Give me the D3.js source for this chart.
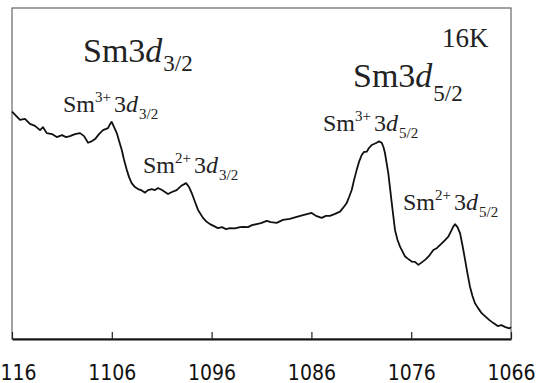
<!DOCTYPE html>
<html>
<head>
<meta charset="UTF-8">
<title>Sm 3d spectrum 16K</title>
<script src="https://d3js.org/d3.v7.min.js"></script>
<style>
    body { margin: 0; background: #fff; }
    svg { display: block; }
</style>
</head>
<body>
<div id="chart"></div>
<script>
// binding energy (eV)
const energy = [
    1116.00, 1115.20, 1114.70, 1114.20, 1113.70, 1113.19, 1112.89, 1112.52, 1111.99, 1111.52,
    1110.99, 1110.59, 1110.19, 1109.69, 1109.18, 1108.78, 1108.38, 1107.98, 1107.68, 1107.28,
    1106.88, 1106.38, 1106.18, 1106.01, 1105.77, 1105.50, 1105.27, 1105.00, 1104.77, 1104.50,
    1104.27, 1104.01, 1103.68, 1103.37, 1103.07, 1102.67, 1102.37, 1102.00, 1101.67, 1101.37,
    1100.97, 1100.67, 1100.37, 1099.97, 1099.50, 1099.07, 1098.56, 1098.26, 1097.99, 1097.66,
    1097.36, 1096.86, 1096.56, 1096.16, 1095.76, 1095.36, 1094.96, 1094.56, 1094.16, 1093.66,
    1093.15, 1092.85, 1092.35, 1091.95, 1091.48, 1091.05, 1090.48, 1090.05, 1089.48, 1088.85,
    1088.16, 1087.47, 1086.74, 1085.97, 1085.54, 1084.97, 1084.54, 1084.14, 1083.63, 1083.13,
    1082.83, 1082.46, 1082.22, 1081.96, 1081.73, 1081.46, 1081.23, 1080.96, 1080.73, 1080.46,
    1080.23, 1079.96, 1079.73, 1079.46, 1079.23, 1078.96, 1078.78, 1078.63, 1078.30, 1078.12,
    1077.95, 1077.77, 1077.62, 1077.37, 1077.12, 1076.61, 1076.31, 1075.95, 1075.62, 1075.28,
    1075.01, 1074.61, 1074.21, 1073.78, 1073.41, 1072.94, 1072.61, 1072.28, 1072.00, 1071.81,
    1071.61, 1071.36, 1071.10, 1070.85, 1070.60, 1070.35, 1070.11, 1069.86, 1069.61, 1069.31,
    1068.94, 1068.61, 1068.16, 1067.76, 1067.33, 1066.96, 1066.56, 1066.16, 1066.00
];
// intensity (arb. units)
const intensity = [
    68.7, 66.2, 66.5, 65.0, 64.4, 63.1, 64.0, 62.2, 61.9, 61.0,
    61.6, 61.0, 61.3, 61.9, 62.2, 61.3, 59.3, 59.8, 60.4, 61.9,
    63.1, 63.7, 64.9, 65.6, 64.0, 62.2, 59.8, 57.1, 54.1, 51.1,
    48.9, 47.1, 45.9, 45.3, 45.0, 44.2, 45.0, 45.3, 45.0, 45.6,
    45.0, 44.4, 43.8, 44.4, 45.0, 46.2, 47.1, 45.9, 44.1, 41.4,
    39.0, 36.6, 35.6, 34.7, 34.1, 33.5, 33.8, 33.2, 33.5, 33.4,
    33.8, 33.9, 33.8, 34.4, 34.7, 35.0, 35.7, 35.3, 35.1, 36.0,
    36.3, 36.9, 37.5, 38.1, 37.2, 36.6, 37.2, 37.2, 37.8, 38.5,
    39.6, 41.1, 42.9, 45.0, 48.0, 51.1, 53.5, 55.6, 56.5, 56.6,
    57.7, 58.6, 58.9, 59.3, 59.7, 59.3, 58.0, 56.2, 50.2, 45.6,
    41.1, 36.6, 32.9, 29.9, 27.9, 24.9, 24.2, 23.4, 23.3, 22.4,
    23.0, 23.9, 25.1, 26.9, 27.5, 28.9, 29.9, 30.9, 32.6, 33.8,
    34.7, 33.8, 31.9, 28.1, 23.9, 19.6, 15.8, 13.0, 10.8, 9.4,
    7.8, 6.9, 5.7, 4.8, 3.9, 4.2, 3.6, 3.2, 3.6
];
const xTicks = [1116, 1106, 1096, 1086, 1076, 1066];

const W = 543, H = 383;
const margin = { left: 12, right: 511, top: 8, bottom: 339 };
const serif = "'Liberation Serif', 'Times New Roman', 'DejaVu Serif', serif";
const narrow = "'Liberation Sans Narrow', 'DejaVu Sans Condensed', 'Liberation Sans', sans-serif";

const svg = d3.select("#chart").append("svg")
    .attr("width", W).attr("height", H);

// x axis reversed (binding energy)
const x = d3.scaleLinear().domain([1116, 1066]).range([margin.left, margin.right]);
const y = d3.scaleLinear().domain([0, 100]).range([margin.bottom, margin.top]);

// frame
svg.append("rect")
    .attr("x", margin.left).attr("y", margin.top)
    .attr("width", margin.right - margin.left).attr("height", margin.bottom - margin.top)
    .attr("fill", "none").attr("stroke", "#666").attr("stroke-width", 1.2);

// bottom axis, ticks pointing inward
const axis = svg.append("g")
    .attr("transform", `translate(0,${margin.bottom})`)
    .call(d3.axisBottom(x).tickValues(xTicks).tickSizeInner(-7).tickSizeOuter(0).tickFormat(d3.format("d")));
axis.attr("font-family", narrow).attr("font-size", 21);
axis.select(".domain").attr("stroke", "#111").attr("stroke-width", 2);
axis.selectAll(".tick line").attr("stroke", "#222").attr("stroke-width", 1.2);
axis.selectAll(".tick text")
    .attr("fill", "#111")
    .attr("y", 41).attr("dy", 0);

// spectrum
const pts = energy.map((e, i) => [e, intensity[i]]);
const line = d3.line().x(d => x(d[0])).y(d => y(d[1]));
svg.append("path")
    .datum(pts)
    .attr("d", line)
    .attr("fill", "none")
    .attr("stroke", "#111")
    .attr("stroke-width", 1.8)
    .attr("stroke-linejoin", "round");

// rich text helper
function label(px, py, size, parts) {
    const t = svg.append("text")
        .attr("font-family", serif).attr("fill", "#222")
        .attr("x", px).attr("y", py).attr("font-size", size);
    parts.forEach(p => {
        const s = t.append("tspan").text(p.t);
        if (p.size) s.attr("font-size", p.size);
        if (p.dy) s.attr("dy", p.dy);
        if (p.it) s.attr("font-style", "italic");
        if (p.dx) s.attr("dx", p.dx);
    });
}

label(83, 62, 34, [{t: "Sm3"}, {t: "d", it: true}, {t: "3/2", size: 23, dy: 9, dx: 1}]);
label(353, 87, 34, [{t: "Sm3"}, {t: "d", it: true}, {t: "5/2", size: 23, dy: 14, dx: 1}]);
label(442, 47, 27, [{t: "16K"}]);

function peakLabel(px, py, sup, sub) {
    label(px, py, 24, [
        {t: "Sm"},
        {t: sup, size: 15, dy: -10},
        {t: "3", dy: 10, dx: 3},
        {t: "d", it: true},
        {t: sub, size: 15, dy: 7, dx: 1}
    ]);
}
peakLabel(63, 112, "3+", "3/2");
peakLabel(143, 173, "2+", "3/2");
peakLabel(323, 131, "3+", "5/2");
peakLabel(403, 210, "2+", "5/2");
</script>
</body>
</html>
